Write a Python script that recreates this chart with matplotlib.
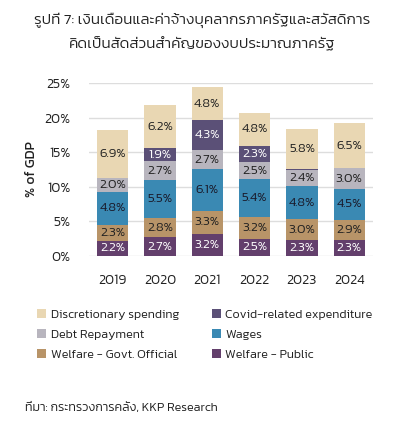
import matplotlib
matplotlib.use("Agg")
import matplotlib.pyplot as plt
import numpy as np
from matplotlib.patches import Patch

plt.rcParams['font.family'] = ['Kanit', 'DejaVu Sans']
plt.rcParams['font.weight'] = 300

years = ["2019", "2020", "2021", "2022", "2023", "2024"]
welfare_public = [2.2, 2.7, 3.2, 2.5, 2.3, 2.3]
welfare_govt = [2.3, 2.8, 3.3, 3.2, 3.0, 2.9]
wages = [4.8, 5.5, 6.1, 5.4, 4.8, 4.5]
debt = [2.0, 2.7, 2.7, 2.5, 2.4, 3.0]
covid = [0.0, 1.9, 4.3, 2.3, 0.1, 0.0]
discretionary = [6.9, 6.2, 4.8, 4.8, 5.8, 6.5]
yticks = [0, 5, 10, 15, 20, 25]

series = [
    ("Welfare - Public", welfare_public, "#633F6C", "white"),
    ("Welfare - Govt. Official", welfare_govt, "#B89468", "#222222"),
    ("Wages", wages, "#3A89B3", "#1a1a2a"),
    ("Debt Repayment", debt, "#B8B5BE", "#222222"),
    ("Covid-related expenditure", covid, "#5B5077", "white"),
    ("Discretionary spending", discretionary, "#E9D7B3", "#222222"),
]

fig = plt.figure(figsize=(4.04, 4.26), dpi=100)
ax = fig.add_axes([0.22, 0.399, 0.703, 0.406])
x = np.arange(len(years))
bottom = np.zeros(len(years))
for name, vals, color, tc in series:
    v = np.array(vals)
    ax.bar(x, v, 0.66, bottom=bottom, color=color, zorder=2)
    for xi, vi, bi in zip(x, v, bottom):
        if vi >= 1.0:
            ax.text(xi, bi + vi / 2, f"{vi:.1f}%", ha='center', va='center',
                    fontsize=9.5, color=tc, zorder=3)
    bottom = bottom + v

ax.set_xlim(-0.5, 5.5)
ax.set_ylim(0, 25)
ax.set_yticks(yticks)
ax.set_yticklabels([f"{t}%" for t in yticks], fontsize=10, color='#222222')
ax.set_xticks(x)
ax.set_xticklabels(years, fontsize=10, color='#222222')
ax.tick_params(axis='y', length=0, pad=13)
ax.tick_params(axis='x', length=0, pad=13)
ax.grid(axis='y', color='#dddddd', linewidth=1, zorder=0)
for s in ax.spines.values():
    s.set_visible(False)
ax.set_ylabel("% of GDP", fontsize=10, labelpad=5, color='#222222')

fig.text(0.5, 0.953, "รูปที่ 7: เงินเดือนและค่าจ้างบุคลากรภาครัฐและสวัสดิการ",
         ha='center', va='center', fontsize=11, color='#222222')
fig.text(0.5, 0.899, "คิดเป็นสัดส่วนสำคัญของงบประมาณภาครัฐ",
         ha='center', va='center', fontsize=11, color='#222222')

order = [5, 3, 1, 4, 2, 0]
handles = [Patch(facecolor=series[i][2], label=series[i][0]) for i in order]
leg = fig.legend(handles=handles, loc='upper left', bbox_to_anchor=(0.064, 0.302),
                 ncol=2, frameon=False, fontsize=9, handlelength=0.75, handleheight=0.75,
                 handletextpad=0.35, columnspacing=2.6, labelspacing=0.75,
                 labelcolor='#222222')

fig.text(0.062, 0.044, "ที่มา: กระทรวงการคลัง, KKP Research", ha='left', va='center',
         fontsize=9, color='#222222')
fig.savefig("out.png", dpi=100)
